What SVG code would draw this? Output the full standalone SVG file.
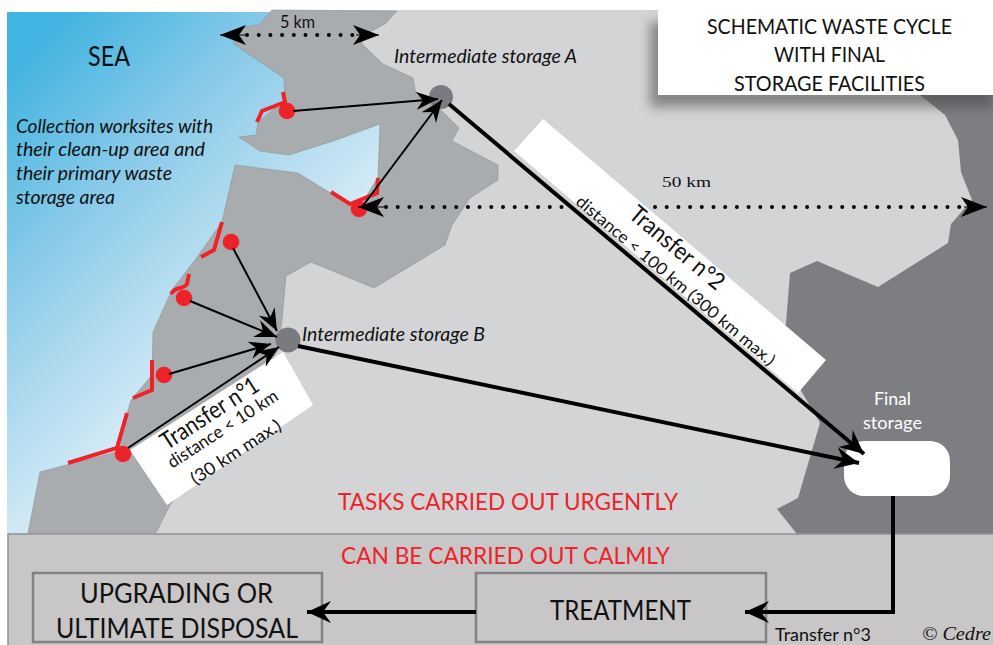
<svg xmlns="http://www.w3.org/2000/svg" width="993" height="645" viewBox="0 0 993 645">
<defs>
<linearGradient id="sea" gradientUnits="userSpaceOnUse" x1="40" y1="40" x2="285" y2="285"><stop offset="0" stop-color="#42b4e1"/><stop offset="0.45" stop-color="#8ccbe9"/><stop offset="1" stop-color="#d6ebf6"/></linearGradient>
<filter id="blur" x="-20%" y="-40%" width="140%" height="180%"><feGaussianBlur stdDeviation="6"/></filter>
<marker id="thin" markerUnits="userSpaceOnUse" markerWidth="24" markerHeight="20" refX="22" refY="9" orient="auto"><path d="M22,9 L0,0 L7,9 L0,18 Z" fill="#000"/></marker>
<marker id="thick" markerUnits="userSpaceOnUse" markerWidth="26" markerHeight="24" refX="24" refY="11" orient="auto"><path d="M24,11 L0,0 L8,11 L0,22 Z" fill="#000"/></marker>
<marker id="dot" markerUnits="userSpaceOnUse" markerWidth="28" markerHeight="22" refX="26" refY="10" orient="auto"><path d="M26,10 L0,0 L7,10 L0,20 Z" fill="#000"/></marker>
</defs>
<style>
text{font-family:"Lato","Noto Sans",sans-serif;fill:#111}
.it{font-style:italic;font-size:19px}
.red{fill:#ee2229;font-size:24px;text-anchor:middle}
.big{font-size:27px;text-anchor:middle}
.ttl{font-size:21px;text-anchor:middle}
.wh{fill:#fff;font-size:18px;text-anchor:middle}
.box{fill:#c8c6c7;stroke:#808285;stroke-width:2.5}
.site{fill:none;stroke:#ee2229;stroke-width:4}
.dotc{fill:#ee2229}
.stor{fill:#7a7b80}
.arr{fill:none;stroke:#000;stroke-width:2;marker-end:url(#thin)}
.heavy{fill:none;stroke:#000;stroke-width:4;marker-end:url(#thick)}
.dots{fill:none;stroke:#000;stroke-width:4;stroke-linecap:round;stroke-dasharray:0 11.7}
.head{fill:none;stroke:#000;stroke-width:1;marker-end:url(#dot)}
</style>
<rect width="993" height="645" fill="#fff"/>
<rect x="7" y="12" width="986" height="522" fill="url(#sea)"/>
<path d="M272,10H993V534H156L170,505L220,440L278,350L280,320L284,274L310,258L400,200L410,110L300,60Z" fill="#d3d4d6"/>
<path d="M920,95L945,115L958,140L961,172L972,200L951,224L948,243L878,287L817,261L790,273L786,323L780,355L820,423L798,498L777,509L797,534H993V95Z" fill="#7d7e82"/>
<path d="M272,10L397,11L385,24L362,36L362,44L383,64L413,78L416,95L441,110L459,128L452,141L498,165L498,180L470,198L452,225L445,245L374,288L311,262L286,276L282,320L278,350L220,440L170,505L156,533H28L40,472L116,452L131,400L152,375L153,332L172,290L195,260L222,222L235,165L298,173L358,210L378,177L380,124L336,140L289,155L260,151L239,137L256,135L258,122L285,100L284,78L234,44L234,30L260,24Z" fill="#a9acaf" stroke="#8f9194" stroke-width="0.6"/>
<rect x="650" y="22" width="343" height="85" fill="#444" opacity="0.55" filter="url(#blur)"/>
<path d="M8,534H993V645H8Z" fill="#c8c6c7"/>
<path d="M8,645V534H993" fill="none" stroke="#909194" stroke-width="1.5"/>
<g id="transfer-1-label"><path d="M130,450L283,352L313,405L167,505Z" fill="#fff"/>
<text font-size="24" text-anchor="middle" textLength="112" lengthAdjust="spacingAndGlyphs" transform="translate(214,420) rotate(-33)">Transfer n°1</text>
<text font-size="17.5" text-anchor="middle" textLength="128" lengthAdjust="spacingAndGlyphs" transform="translate(226,434) rotate(-33)">distance &lt; 10 km</text>
<text font-size="17.5" text-anchor="middle" textLength="104" lengthAdjust="spacingAndGlyphs" transform="translate(239,457) rotate(-33)">(30 km max.)</text></g>
<g id="transfer-2-label"><path d="M543,119L826,360L798,393L514,151Z" fill="#fff"/>
<text font-size="24" text-anchor="middle" textLength="116" lengthAdjust="spacingAndGlyphs" transform="translate(672,254) rotate(40)">Transfer n°2</text>
<text font-size="16.5" text-anchor="middle" textLength="254" lengthAdjust="spacingAndGlyphs" transform="translate(672,285) rotate(40)">distance &lt; 100 km (300 km max.)</text></g>
<g id="site-1"><path class="site" d="M283,92L285,102L262,111L257,122"/><circle class="dotc" cx="287" cy="111" r="8.3"/></g>
<g id="site-2"><path class="site" d="M331,192L350,204L377,193L378,178"/><circle class="dotc" cx="359" cy="209" r="8.3"/></g>
<g id="site-3"><path class="site" d="M222,222L214,250L201,257"/><circle class="dotc" cx="231" cy="242" r="8.3"/></g>
<g id="site-4"><path class="site" d="M189,274L187,284Q185,287 180,288Q174,289 171,294"/><circle class="dotc" cx="184" cy="298" r="8.3"/></g>
<g id="site-5"><path class="site" d="M152,360V390L133,398"/><circle class="dotc" cx="164" cy="375" r="8.3"/></g>
<g id="site-6"><path class="site" d="M127,413L117,448L68,463"/><circle class="dotc" cx="123" cy="454" r="8.3"/></g>
<g id="storage-a"><circle class="stor" cx="441" cy="97" r="12"/><text class="it" x="394" y="63" textLength="183" lengthAdjust="spacingAndGlyphs">Intermediate storage A</text></g>
<g id="storage-b"><circle class="stor" cx="288" cy="340" r="12.5"/><text class="it" x="302" y="341" textLength="183" lengthAdjust="spacingAndGlyphs">Intermediate storage B</text></g>
<g id="final-storage"><rect x="844" y="441" width="106" height="55" rx="20" fill="#fff"/><text class="wh" x="892.5" y="405" textLength="37" lengthAdjust="spacingAndGlyphs">Final</text><text class="wh" x="892.5" y="429" textLength="59" lengthAdjust="spacingAndGlyphs">storage</text></g>
<g id="title"><rect x="658" y="10" width="335" height="85" fill="#fff"/>
<text class="ttl" x="829.5" y="34" textLength="245" lengthAdjust="spacingAndGlyphs">SCHEMATIC WASTE CYCLE</text><text class="ttl" x="829.5" y="62" textLength="111" lengthAdjust="spacingAndGlyphs">WITH FINAL</text><text class="ttl" x="829.5" y="91" textLength="191" lengthAdjust="spacingAndGlyphs">STORAGE FACILITIES</text></g>
<g id="upgrading"><rect class="box" x="33" y="573" width="289" height="69"/><text class="big" x="176.5" y="603" textLength="193" lengthAdjust="spacingAndGlyphs">UPGRADING OR</text><text class="big" x="177" y="638" textLength="242" lengthAdjust="spacingAndGlyphs">ULTIMATE DISPOSAL</text></g>
<g id="treatment"><rect class="box" x="476" y="573" width="290" height="69"/><text class="big" x="620.5" y="620" textLength="141" lengthAdjust="spacingAndGlyphs">TREATMENT</text></g>
<g id="connectors">
<path class="dots" d="M386,207H563"/>
<path class="dots" d="M655,207H965"/>
<path class="head" d="M386,207H358"/>
<path class="head" d="M964,207H987"/>
<path class="dots" d="M247,35H356"/>
<path class="head" d="M245,35H220"/>
<path class="head" d="M356,35H379"/>
<path class="arr" d="M293,111L438,99"/>
<path class="arr" d="M362,207L442,100"/>
<path class="arr" d="M233,248L277,331"/>
<path class="arr" d="M190,301L277,337"/>
<path class="arr" d="M169,374L271,344"/>
<path class="arr" d="M128,448L279,347"/>
<path class="heavy" d="M449,104L864,454"/>
<path class="heavy" d="M298,346L859,463"/>
<path class="heavy" d="M893,496V612H745"/>
<path class="heavy" d="M476,612H307"/>
</g>
<text x="88" y="66" font-size="26" textLength="42" lengthAdjust="spacingAndGlyphs">SEA</text>
<text class="it" x="16" y="133" textLength="197" lengthAdjust="spacingAndGlyphs">Collection worksites with</text>
<text class="it" x="16" y="156" textLength="189" lengthAdjust="spacingAndGlyphs">their clean-up area and</text>
<text class="it" x="16" y="180" textLength="156" lengthAdjust="spacingAndGlyphs">their primary waste</text>
<text class="it" x="16" y="204" textLength="99" lengthAdjust="spacingAndGlyphs">storage area</text>
<text x="280" y="28" font-size="17" textLength="35" lengthAdjust="spacingAndGlyphs">5 km</text>
<text x="662" y="187" font-size="15" textLength="49" lengthAdjust="spacingAndGlyphs" style="font-family:'Liberation Serif',serif">50 km</text>
<text class="red" x="508" y="510" textLength="340" lengthAdjust="spacingAndGlyphs">TASKS CARRIED OUT URGENTLY</text>
<text class="red" x="505.5" y="564" textLength="329" lengthAdjust="spacingAndGlyphs">CAN BE CARRIED OUT CALMLY</text>
<text x="775" y="641" font-size="17" textLength="96" lengthAdjust="spacingAndGlyphs">Transfer n°3</text>
<text x="922" y="640" font-size="19" font-style="italic" textLength="69" lengthAdjust="spacingAndGlyphs" style="font-family:'Liberation Serif',serif">© Cedre</text>
</svg>
